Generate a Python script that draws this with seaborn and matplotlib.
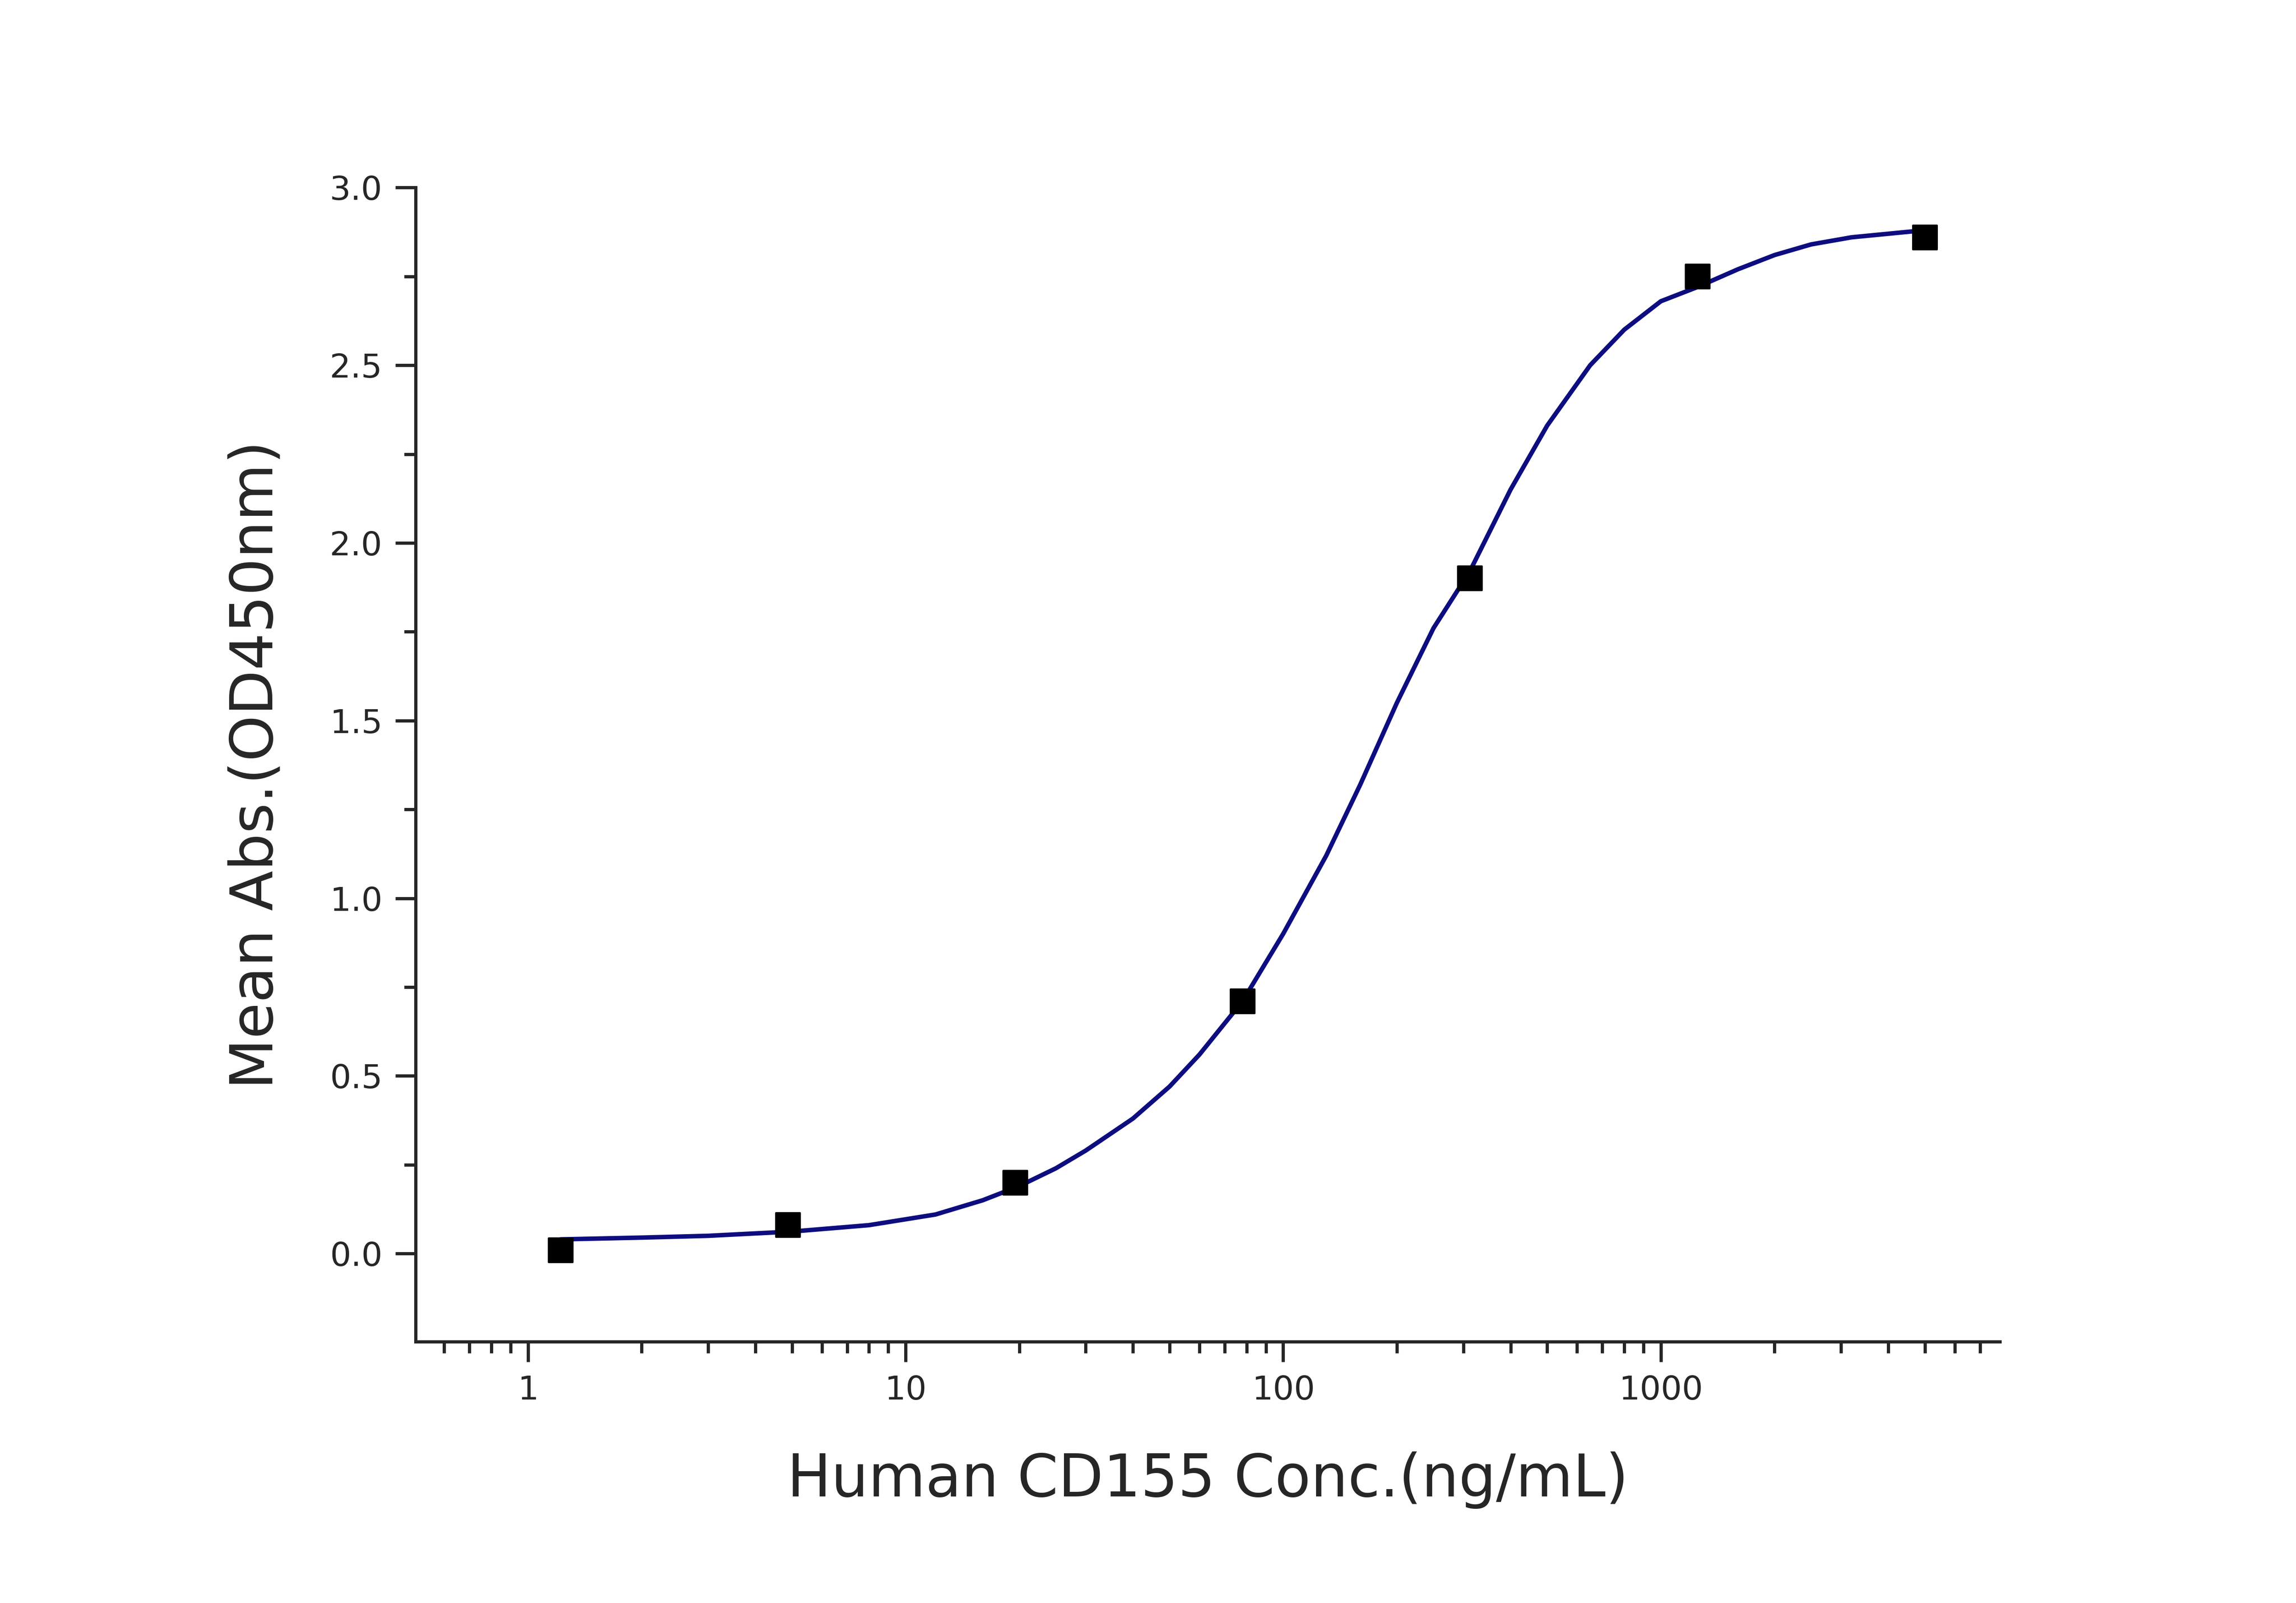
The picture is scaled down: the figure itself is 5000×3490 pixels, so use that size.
import matplotlib
matplotlib.use("Agg")
import matplotlib.pyplot as plt
import seaborn as sns
import pandas as pd
from matplotlib.ticker import LogLocator, MultipleLocator, FixedLocator

conc = [1.22, 4.88, 19.53, 78.13, 312.5, 1250, 5000]
absorb = [0.01, 0.08, 0.20, 0.71, 1.90, 2.75, 2.86]

curve_x = [1.22, 2, 3, 5, 8, 12, 16, 20, 25, 30, 40, 50, 60, 78, 100, 130, 160, 200, 250, 312, 400, 500, 650, 800, 1000, 1250, 1600, 2000, 2500, 3200, 4000, 5000]
curve_y = [0.04, 0.045, 0.05, 0.062, 0.08, 0.11, 0.15, 0.19, 0.24, 0.29, 0.38, 0.47, 0.56, 0.71, 0.90, 1.12, 1.32, 1.55, 1.76, 1.92, 2.15, 2.33, 2.50, 2.60, 2.68, 2.72, 2.77, 2.81, 2.84, 2.86, 2.87, 2.88]

plt.rcParams["font.family"] = "Open Sans"
sns.set_style("ticks")
fig = plt.figure(figsize=(50, 34.9), dpi=100)
ax = fig.add_axes([0.181, 0.163, 0.69, 0.72])

sns.lineplot(data=pd.DataFrame({"x": curve_x, "y": curve_y}), x="x", y="y", ax=ax,
             color="#0d0d80", linewidth=7)
sns.scatterplot(data=pd.DataFrame({"x": conc, "y": absorb}), x="x", y="y", ax=ax,
                marker="s", s=1400, color="black", edgecolor="black", zorder=5)

ax.set_xscale("log")
ax.set_xlim(0.504, 7900)
ax.set_ylim(-0.248, 3.0)
ax.yaxis.set_major_locator(MultipleLocator(0.5))
ax.yaxis.set_minor_locator(MultipleLocator(0.25))
ax.set_yticklabels([]) if False else None
ax.yaxis.set_major_formatter(matplotlib.ticker.FormatStrFormatter("%.1f"))
ax.xaxis.set_major_locator(FixedLocator([1, 10, 100, 1000]))
ax.set_xticklabels(["1", "10", "100", "1000"])
ax.xaxis.set_minor_locator(LogLocator(base=10, subs=range(2, 10), numticks=20))
ax.xaxis.set_minor_formatter(matplotlib.ticker.NullFormatter())

for s in ["top", "right"]:
    ax.spines[s].set_visible(False)
for s in ["left", "bottom"]:
    ax.spines[s].set_linewidth(5)
ax.tick_params(which="major", length=32, width=5, labelsize=52, pad=20, direction="out")
ax.tick_params(which="minor", length=18, width=5, direction="out")

ax.set_xlabel("Human CD155 Conc.(ng/mL)", fontsize=92, labelpad=70)
ax.set_ylabel("Mean Abs.(OD450nm)", fontsize=92, labelpad=70)

fig.savefig("out.png", dpi=100)
